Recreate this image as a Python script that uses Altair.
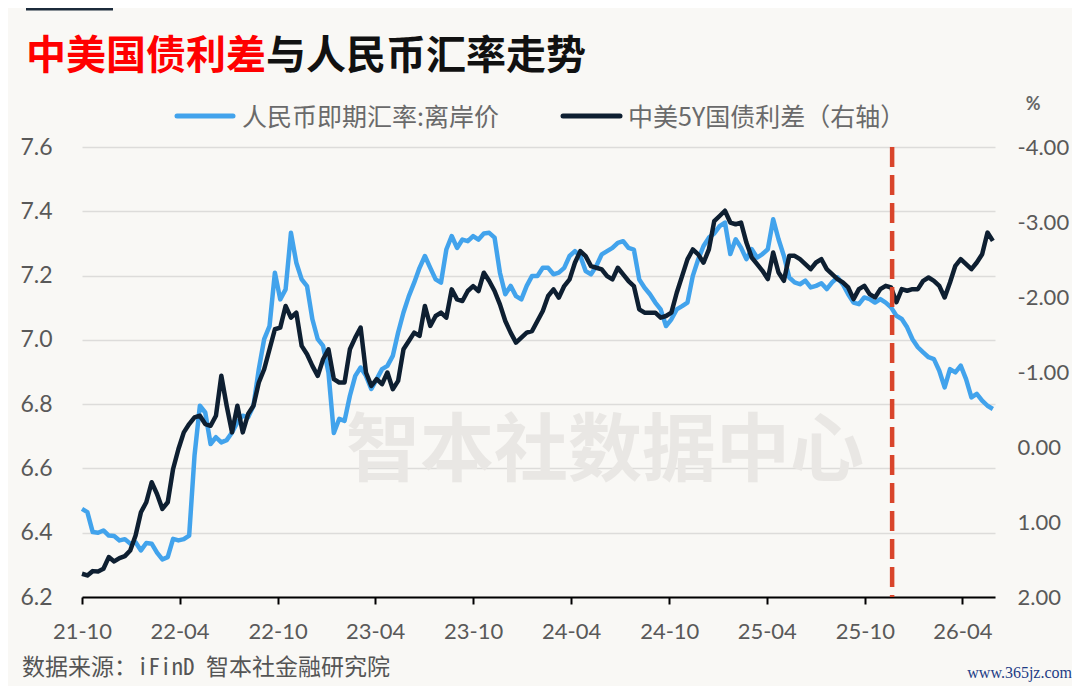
import altair as alt
import pandas as pd

# ---------------- data ----------------
START = "2021-10-01"
STEP_DAYS = 10

# 人民币即期汇率:离岸价 (left axis)
CNH = [
    6.474, 6.464, 6.402, 6.400, 6.407, 6.391, 6.390, 6.376, 6.380, 6.366,
    6.370, 6.345, 6.368, 6.366, 6.338, 6.317, 6.324, 6.381, 6.376, 6.380,
    6.391, 6.640, 6.795, 6.774, 6.676, 6.697, 6.681, 6.688, 6.712, 6.743,
    6.764, 6.759, 6.795, 6.909, 7.002, 7.043, 7.209, 7.126, 7.157, 7.333,
    7.240, 7.188, 7.167, 7.064, 7.002, 6.981, 6.898, 6.710, 6.754, 6.748,
    6.826, 6.888, 6.914, 6.888, 6.847, 6.878, 6.909, 6.919, 6.950, 7.023,
    7.085, 7.136, 7.178, 7.224, 7.261, 7.224, 7.188, 7.178, 7.281, 7.323,
    7.286, 7.312, 7.307, 7.323, 7.312, 7.331, 7.333, 7.318, 7.209, 7.142,
    7.168, 7.136, 7.126, 7.168, 7.199, 7.199, 7.224, 7.224, 7.204, 7.209,
    7.224, 7.261, 7.276, 7.261, 7.214, 7.204, 7.230, 7.266, 7.276, 7.286,
    7.302, 7.307, 7.286, 7.281, 7.188, 7.162, 7.142, 7.116, 7.095, 7.043,
    7.064, 7.095, 7.105, 7.116, 7.199, 7.250, 7.292, 7.318, 7.331, 7.354,
    7.365, 7.267, 7.313, 7.287, 7.251, 7.282, 7.256, 7.267, 7.282, 7.375,
    7.313, 7.261, 7.194, 7.179, 7.173, 7.184, 7.163, 7.168, 7.176, 7.158,
    7.179, 7.194, 7.173, 7.142, 7.116, 7.111, 7.132, 7.127, 7.116, 7.127,
    7.116, 7.101, 7.075, 7.065, 7.039, 7.002, 6.977, 6.961, 6.946, 6.940,
    6.904, 6.852, 6.909, 6.899, 6.920, 6.878, 6.821, 6.832, 6.811, 6.795,
    6.785,
]

# 中美5Y国债利差 (right axis, %)
SPREAD = [
    1.690, 1.712, 1.655, 1.659, 1.624, 1.468, 1.526, 1.482, 1.455, 1.380,
    1.180, 0.870, 0.737, 0.470, 0.626, 0.825, 0.737, 0.293, 0.027, -0.195,
    -0.306, -0.394, -0.417, -0.306, -0.283, -0.417, -0.950, -0.550, -0.195, -0.550,
    -0.195, -0.439, -0.550, -0.860, -1.037, -1.303, -1.570, -1.592, -1.880, -1.725,
    -1.791, -1.348, -1.237, -1.082, -0.949, -1.170, -1.303, -0.904, -0.860, -0.860,
    -1.303, -1.459, -1.592, -0.993, -0.816, -0.904, -0.838, -0.993, -0.771, -0.882,
    -1.303, -1.414, -1.525, -1.481, -1.880, -1.614, -1.747, -1.791, -1.725, -2.102,
    -1.969, -1.947, -2.080, -2.146, -2.080, -2.324, -2.213, -2.080, -1.902, -1.680,
    -1.525, -1.392, -1.459, -1.525, -1.547, -1.680, -1.814, -2.013, -2.102, -1.991,
    -2.146, -2.235, -2.457, -2.612, -2.545, -2.412, -2.390, -2.368, -2.279, -2.235,
    -2.390, -2.301, -2.213, -2.146, -1.836, -1.791, -1.791, -1.791, -1.725, -1.747,
    -1.791, -2.057, -2.279, -2.501, -2.634, -2.568, -2.457, -2.634, -3.011, -3.080,
    -3.150, -2.993, -2.970, -2.993, -2.726, -2.527, -2.438, -2.349, -2.238, -2.593,
    -2.327, -2.216, -2.549, -2.549, -2.504, -2.438, -2.371, -2.460, -2.504, -2.371,
    -2.305, -2.238, -2.194, -2.127, -1.972, -2.105, -2.149, -2.038, -1.994, -2.105,
    -2.149, -2.127, -1.930, -2.105, -2.083, -2.105, -2.105, -2.216, -2.260, -2.216,
    -2.149, -1.994, -2.194, -2.416, -2.504, -2.438, -2.371, -2.460, -2.571, -2.859,
    -2.748,
]

X_TICKS = ["2021-10", "2022-04", "2022-10", "2023-04", "2023-10",
           "2024-04", "2024-10", "2025-04", "2025-10", "2026-04"]
X_DOMAIN = ["2021-10", "2026-06"]
Y_LEFT_TICKS = [6.2, 6.4, 6.6, 6.8, 7.0, 7.2, 7.4, 7.6]
Y_RIGHT_TICKS = [-4, -3, -2, -1, 0, 1, 2]
MARK_DATE = ["2025-11-21"]

TITLE_RED = "中美国债利差"
TITLE_BLACK = "与人民币汇率走势"
LEGEND_CNH = "人民币即期汇率:离岸价"
LEGEND_SPREAD = "中美5Y国债利差（右轴）"
SOURCE = "数据来源：iFinD 智本社金融研究院"
WATERMARK = "智本社数据中心"
SITE = "www.365jz.com"

# ---------------- styles ----------------
BG = "#f9f8f5"
BLUE = "#42a3ec"
NAVY = "#0e1f31"
RED = "#d9452b"
GREY = "#595959"
CJK = "Noto Sans CJK SC"
NUM = "Lato"

dates = pd.date_range(START, periods=len(CNH), freq=f"{STEP_DAYS}D").strftime("%Y-%m-%d")
df = pd.DataFrame({"date": dates, "cnh": CNH, "spread": SPREAD})


def dt(s):
    y, m = s.split("-")[:2]
    return alt.DateTime(year=int(y), month=int(m), date=1, utc=True)


x_enc = alt.X(
    "date:T",
    title=None,
    scale=alt.Scale(type="utc", domain=[dt(s) for s in X_DOMAIN]),
    axis=alt.Axis(
        values=[dt(s) for s in X_TICKS],
        format="%y-%m",
        grid=False,
        domainColor="#000000",
        domainWidth=2,
        tickColor="#000000",
        tickWidth=2,
        tickSize=7,
        labelFont=NUM,
        labelFontSize=22,
        labelColor=GREY,
        labelPadding=17,
        labelFlush=False,
        labelOverlap=False,
    ),
)

blue = alt.Chart(df).mark_line(color=BLUE, strokeWidth=4.5, strokeJoin="round").encode(
    x=x_enc,
    y=alt.Y(
        "cnh:Q",
        title=None,
        scale=alt.Scale(domain=[6.2, 7.6], nice=False, zero=False),
        axis=alt.Axis(
            orient="left",
            values=Y_LEFT_TICKS,
            format=".1f",
            grid=True,
            gridColor="#dddcda",
            gridWidth=1.5,
            domain=False,
            ticks=False,
            tickSize=0,
            labelFont=NUM,
            labelFontSize=23,
            labelColor=GREY,
            labelPadding=30,
        ),
    ),
)

navy = alt.Chart(df).mark_line(color=NAVY, strokeWidth=4.5, strokeJoin="round").encode(
    x=x_enc,
    y=alt.Y(
        "spread:Q",
        title=None,
        scale=alt.Scale(domain=[-4, 2], reverse=True, nice=False, zero=False),
        axis=alt.Axis(
            orient="right",
            values=Y_RIGHT_TICKS,
            labelExpr="datum.value < 0 ? '-' + format(-datum.value, '.2f') : format(datum.value, '.2f')",
            grid=False,
            domain=False,
            ticks=False,
            tickSize=0,
            labelFont=NUM,
            labelFontSize=22,
            labelColor=GREY,
            labelPadding=22,
            labelAlign="left",
        ),
    ),
)

marker = alt.Chart(pd.DataFrame({"date": MARK_DATE})).mark_rule(
    color=RED, strokeWidth=4.5, strokeDash=[20, 8]
).encode(x=alt.X("date:T"))


def text(txt, x, y, **kw):
    return alt.Chart(pd.DataFrame({"t": [txt]})).mark_text(**kw).encode(
        x=alt.value(x), y=alt.value(y), text="t:N"
    )


def seg(x1, x2, y, color, width, cap="butt"):
    return alt.Chart(pd.DataFrame({"a": [0]})).mark_rule(
        color=color, strokeWidth=width, strokeCap=cap
    ).encode(x=alt.value(x1), x2=alt.value(x2), y=alt.value(y))


watermark = text(WATERMARK, 523, 306, font=CJK, fontSize=74, fontWeight="bold",
                 color="#e9e7e4", align="center", baseline="middle")

title_red = text(TITLE_RED, -56, -90, font=CJK, fontSize=40, fontWeight="bold",
                 color="#ff0000", align="left", baseline="middle")
title_black = text(TITLE_BLACK, 184, -90, font=CJK, fontSize=40, fontWeight="bold",
                   color="#111111", align="left", baseline="middle")
top_bar = seg(-56, 31, -140, "#1c2b3b", 7)

leg1_line = seg(95, 151, -31, BLUE, 5, "round")
leg1_text = text(LEGEND_CNH, 160, -29.5, font=CJK, fontSize=25, color="#6a6a6a",
                 align="left", baseline="middle")
leg2_line = seg(481, 538, -31, NAVY, 5, "round")
leg2_text = text(LEGEND_SPREAD, 546, -29.5, font=CJK, fontSize=25, color="#6a6a6a",
                 align="left", baseline="middle")

pct = text("%", 951, -42, font=NUM, fontSize=18, fontWeight="bold", color="#666666",
           align="center", baseline="middle")
source = text(SOURCE, -60, 521, font="Noto Sans Mono CJK SC, Noto Sans CJK SC", fontSize=23,
              color="#555555", align="left", baseline="middle")
site = text(SITE, 990, 526, font="Liberation Serif", fontSize=16, color="#1d3c85",
            align="right", baseline="middle")

chart = alt.layer(
    watermark, blue, navy, marker,
    title_red, title_black, top_bar,
    leg1_line, leg1_text, leg2_line, leg2_text,
    pct, source, site,
).resolve_scale(y="independent").properties(
    width=913,
    height=450,
    padding={"left": 74, "top": 139, "right": 77, "bottom": 89},
    autosize=alt.AutoSizeParams(type="none"),
    background=BG,
).configure_view(strokeWidth=0)

chart.save("out.html", embed_options={"renderer": "svg", "actions": False})
